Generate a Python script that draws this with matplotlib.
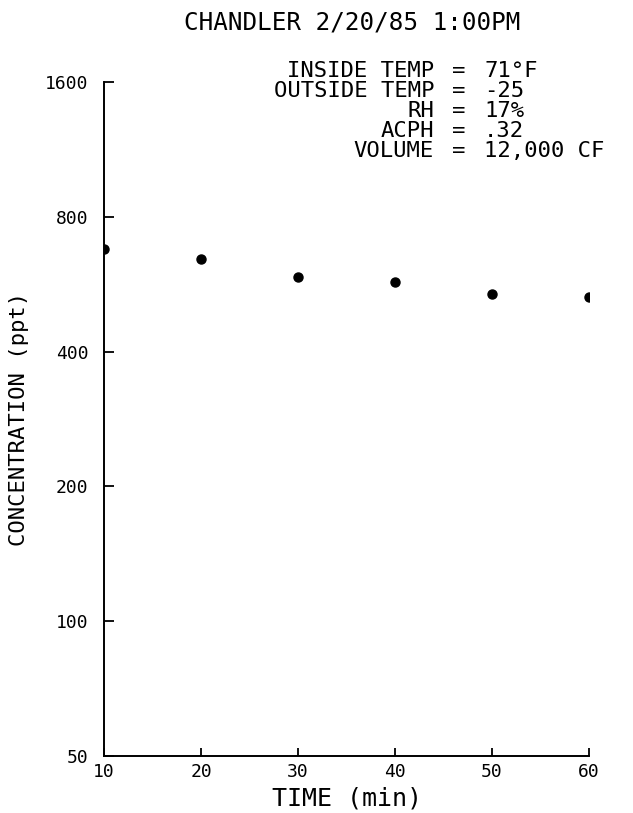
import matplotlib
matplotlib.use("Agg")
import matplotlib.pyplot as plt
from matplotlib.ticker import FixedLocator, FixedFormatter, NullLocator

# decay run, concentration sampled every 10 minutes
time_min = [10, 20, 30, 40, 50, 60]
conc_ppt = [677, 643, 587, 572, 538, 531]

y_ticks = [50, 100, 200, 400, 800, 1600]
x_ticks = [10, 20, 30, 40, 50, 60]

info_labels = ["INSIDE TEMP", "OUTSIDE TEMP", "RH", "ACPH", "VOLUME"]
info_values = ["71°F", "-25", "17%", ".32", "12,000 CF"]

# fixed pitch lettering like the pen plotter output
plt.rcParams['font.family'] = ['DejaVu Sans Mono', 'DejaVu Sans']

W, H = 633, 813
fig = plt.figure(figsize=(W / 100, H / 100), dpi=100)
ax = fig.add_axes([104 / W, 1 - 756 / H, (589 - 104) / W, (756 - 82) / H])

ax.plot(time_min, conc_ppt, 'o', color='black', markersize=6.5, clip_on=True)

ax.set_yscale('log', base=2)
ax.set_ylim(50, 1600)
ax.set_xlim(10, 60)
ax.yaxis.set_major_locator(FixedLocator(y_ticks))
ax.yaxis.set_major_formatter(FixedFormatter([str(v) for v in y_ticks]))
ax.yaxis.set_minor_locator(NullLocator())
ax.xaxis.set_major_locator(FixedLocator(x_ticks))
ax.xaxis.set_major_formatter(FixedFormatter([str(v) for v in x_ticks]))

for side in ['top', 'right']:
    ax.spines[side].set_visible(False)
for side in ['left', 'bottom']:
    ax.spines[side].set_linewidth(1.4)

ax.tick_params(axis='y', direction='in', length=7, width=1.3, labelsize=13, pad=11)
ax.tick_params(axis='x', direction='in', length=6, width=1.3, labelsize=13, pad=5)

ax.set_xlabel("TIME (min)", fontsize=18, labelpad=4)
ax.set_ylabel("CONCENTRATION (ppt)", fontsize=16, labelpad=12)

fig.text(352 / W, 1 - 22 / H, "CHANDLER 2/20/85 1:00PM", fontsize=17.5,
         ha='center', va='center')

# conditions block: three stacked columns lined up on the equals sign
block_top = 1 - 61 / H
block_kw = dict(fontsize=16, va='top', linespacing=1.0)
fig.text(434 / W, block_top, "\n".join(info_labels), ha='right',
         multialignment='right', **block_kw)
fig.text(459 / W, block_top, "\n".join(["="] * len(info_labels)), ha='center',
         **block_kw)
fig.text(484 / W, block_top, "\n".join(info_values), ha='left',
         multialignment='left', **block_kw)

fig.savefig("out.png", dpi=100, facecolor='white')
